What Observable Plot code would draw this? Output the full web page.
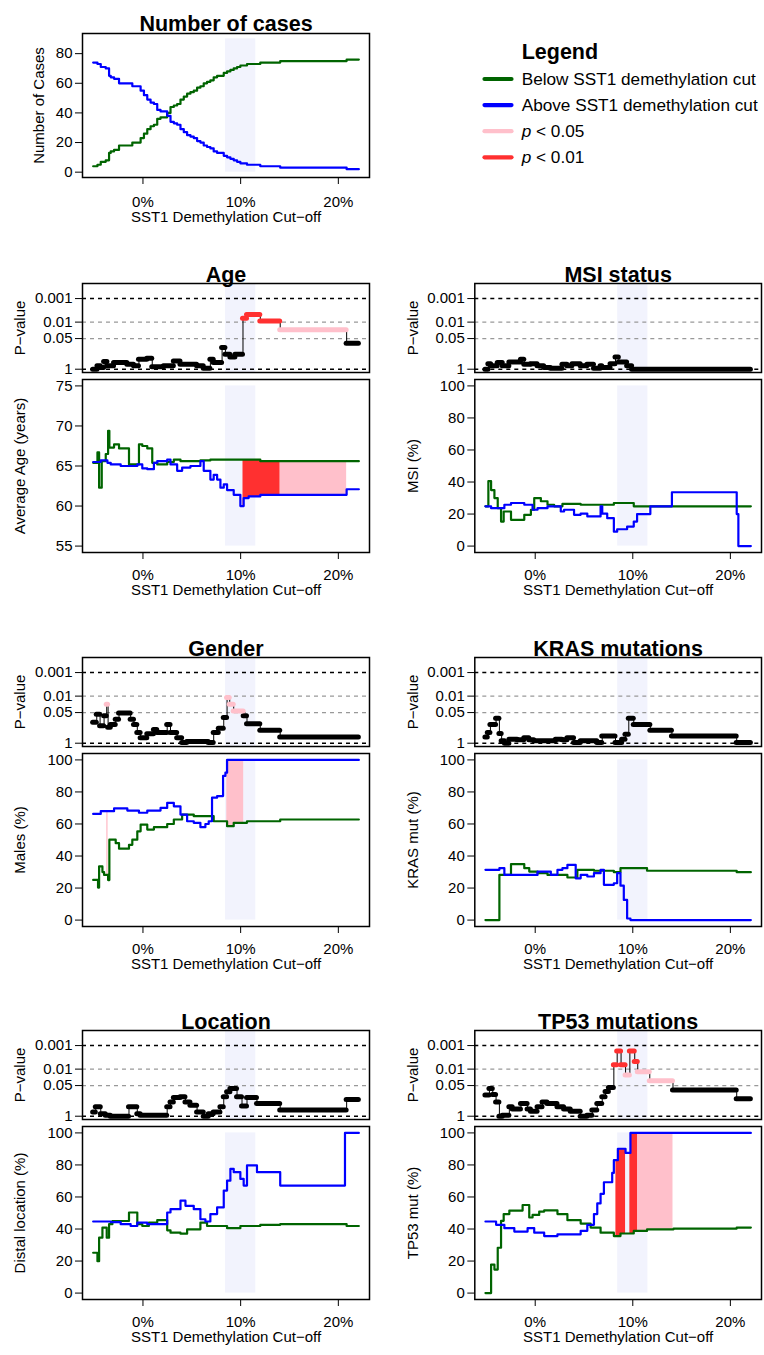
<!DOCTYPE html>
<html><head><meta charset="utf-8">
<script src="https://cdn.jsdelivr.net/npm/d3@7"></script>
<script src="https://cdn.jsdelivr.net/npm/@observablehq/plot@0.6"></script>
<style>
html,body{margin:0;padding:0;background:#fff;}
#chart{position:relative;width:764px;height:1355px;overflow:hidden;font-family:"Liberation Sans",Arial,sans-serif;color:#000;background:#fff;}
#chart svg{position:absolute;overflow:visible;background:transparent !important;max-width:none !important;}
</style></head><body><div id="chart"></div>
<script>
// ---------------- DATA ----------------
const cutoffTicks = [0, 10, 20];
const pTicks = [1, 0.05, 0.01, 0.001];
const focusBand = [[8.45, 11.55]];

const casesCutoff = [-5.1,-4.66,-4.32,-3.81,-3.47,-3.3,-2.96,-2.45,-1.09,-0.24,0.1,0.44,0.78,1.12,1.46,1.8,2.48,2.82,3.16,3.5,3.84,4.18,4.52,4.86,5.2,5.54,5.88,6.22,6.56,6.9,7.24,7.59,8.27,8.61,8.95,9.29,9.63,9.97,10.65,12.01,14.05,20.85,22.1];
const casesBelow = [4,5,7,8,13,14,15,18,20,23,26,29,31,32,36,37,40,44,45,46,49,51,53,54,55,57,58,60,61,62,64,65,67,68,69,70,71,72,73,74,75,76,76];
const casesAbove = [74,73,71,70,65,64,63,60,58,55,52,49,47,46,42,41,38,34,33,32,29,27,25,24,23,21,20,18,17,16,14,13,11,10,9,8,7,6,5,4,3,2,2];

// Age
const ageP = [[-5.1,1],[-4.66,0.72],[-4.32,0.85],[-3.98,0.47],[-3.64,0.72],[-2.96,0.52],[-1.6,0.62],[-0.92,0.72],[-0.41,0.38],[0.44,0.34],[0.95,0.79],[2.14,0.72],[3.16,0.45],[3.84,0.62],[5.54,0.72],[6.22,0.91],[6.9,0.38],[7.24,0.52],[8.1,0.12],[8.44,0.23],[8.95,0.3],[9.46,0.23],[10.24,0.0068],[10.65,0.0047],[12.01,0.0089],[14.05,0.021],[20.85,0.079],[22.1,0.079]];
const ageBelow = [[-5.1,65.4],[-4.66,66.7],[-4.49,62.3],[-4.22,65.6],[-3.81,66.5],[-3.57,69.4],[-3.44,67.3],[-2.96,67.7],[-2.45,67.2],[-1.43,65.2],[-0.41,67.7],[-0.07,67.5],[0.44,67.2],[0.95,65.4],[1.46,65.2],[2.48,65.5],[3.16,65.8],[3.84,65.6],[5.88,65.7],[6.9,65.8],[12.01,65.6],[22.1,65.6]];
const ageAbove = [[-5.1,65.5],[-4.32,65.7],[-3.64,65.4],[-3.3,65.2],[-2.28,65.0],[-0.58,65.2],[-0.07,64.7],[0.44,64.6],[1.12,65.4],[1.46,65.6],[2.48,65.8],[2.82,65.2],[3.5,64.4],[4.01,64.8],[4.86,65.0],[5.88,65.6],[6.22,64.4],[6.9,63.3],[7.24,63.9],[7.59,63.3],[7.93,62.3],[8.27,62.7],[8.61,62.0],[9.29,61.4],[9.97,60.0],[10.31,61.0],[10.82,61.2],[12.01,61.4],[20.85,62.1],[22.1,62.1]];
const ageSig = [[10.24,14.05,0.01],[14.05,20.85,0.05]];

// MSI status
const msiP = [[-5.1,1],[-4.8,0.58],[-4.52,0.72],[-3.84,0.52],[-3.33,0.72],[-2.65,0.49],[-1.46,0.38],[-1.12,0.62],[-0.44,0.58],[0.24,0.72],[0.92,0.85],[1.6,0.91],[2.79,0.62],[3.3,0.72],[3.81,0.58],[4.66,0.72],[5.34,0.62],[6.02,0.91],[6.7,0.72],[6.87,0.85],[7.72,0.58],[8.23,0.3],[8.57,0.49],[9.42,0.72],[9.93,1],[22.1,1]];
const msiBelow = [[-5.1,24.8],[-4.8,40.5],[-4.52,35],[-4.18,30],[-3.84,23.7],[-3.5,15.3],[-3.23,21.6],[-2.48,16.4],[-1.12,19.5],[-0.44,22.7],[-0.1,30],[0.58,28],[1.26,25.8],[1.94,24.8],[2.79,26.3],[4.66,25.8],[8.06,26.9],[10.1,24.8],[22.1,24.8]];
const msiAbove = [[-5.1,24.8],[-4.52,23.7],[-3.16,25.8],[-2.48,26.9],[-1.12,25.8],[-0.27,22.7],[0.24,23.7],[1.26,24.8],[2.62,21.6],[2.96,22.7],[3.98,19.5],[4.66,20.3],[5.34,18.5],[6.7,24.8],[6.87,20.3],[7.38,17.4],[8.06,9],[8.4,10.5],[9.42,12.2],[10.1,15.3],[10.44,20],[11.8,24.8],[14.01,33.6],[20.65,20],[20.82,0],[22.1,0]];
const msiSig = [];

// Gender
const genderP = [[-5.1,0.13],[-4.73,0.059],[-4.39,0.18],[-3.98,0.069],[-3.71,0.022],[-3.57,0.21],[-3.3,0.16],[-2.79,0.095],[-2.45,0.052],[-1.26,0.095],[-0.92,0.16],[-0.58,0.35],[-0.24,0.58],[0.44,0.4],[1.12,0.26],[1.46,0.35],[2.48,0.16],[2.82,0.35],[3.5,0.58],[4.01,0.93],[4.52,0.85],[5.88,0.85],[6.73,0.93],[7.24,0.35],[7.76,0.23],[8.27,0.081],[8.61,0.0115],[8.88,0.022],[9.29,0.043],[10.31,0.069],[10.65,0.15],[12.01,0.28],[14.05,0.54],[22.1,0.54]];
const genderBelow = [[-5.1,25.1],[-4.6,20.3],[-4.49,33.5],[-4.15,30],[-3.98,28.2],[-3.57,25],[-3.44,50.2],[-2.79,48],[-2.45,44.6],[-1.43,47],[-1.09,50.2],[-0.58,55.4],[-0.24,59.6],[0.44,56.5],[1.12,58],[2.48,60],[3.16,62.8],[4.01,65.9],[5.2,64.9],[7.24,61.7],[8.61,58.6],[9.29,60.7],[10.65,61.7],[14.05,62.8],[22.1,62.8]];
const genderAbove = [[-5.1,66.3],[-4.32,68],[-2.96,69.7],[-1.6,68.4],[-0.41,67],[0.44,68.4],[1.8,70],[2.48,73.2],[3.16,71],[3.84,65.9],[4.52,61.7],[5.2,60.7],[5.88,58],[6.39,60],[6.73,61.7],[7.07,76.4],[7.59,77.4],[8.2,90],[8.44,92],[8.61,100],[22.1,100]];
const genderSig = [[-3.71,-3.57,0.05],[8.58,10.31,0.05]];

// KRAS mutations
const krasP = [[-5.1,0.54],[-4.86,0.35],[-4.59,0.16],[-4.01,0.087],[-3.67,0.39],[-3.44,0.79],[-3.1,1],[-2.65,0.68],[-1.8,0.72],[-1.12,0.58],[-0.61,0.72],[-0.1,0.79],[2.11,0.68],[2.79,0.72],[3.3,0.58],[3.98,0.93],[4.66,0.79],[6.36,0.93],[6.87,0.49],[8.23,0.93],[8.91,0.68],[9.25,0.42],[9.59,0.087],[10.1,0.16],[11.8,0.28],[14.01,0.49],[20.65,0.93],[22.1,0.93]];
const krasBelow = [[-5.1,0],[-3.67,28.2],[-2.48,35],[-1.12,32.4],[-0.61,30.3],[0.24,29.3],[1.26,28.2],[3.3,26.6],[4.32,31.4],[6.02,30.8],[8.06,29.9],[8.74,32.4],[11.46,30.8],[20.65,29.9],[22.1,29.9]];
const krasAbove = [[-5.1,31.4],[-3.67,32.4],[-3.16,28.2],[0.24,30.3],[1.6,28.2],[2.28,31.4],[2.79,32.4],[3.3,34.5],[4.15,26.1],[4.66,28.2],[5.34,27.2],[6.02,29.3],[6.7,31.4],[7.04,22],[8.06,23],[8.4,29.3],[8.74,21.5],[9.08,12.6],[9.42,1],[9.76,0],[22.1,0]];
const krasSig = [];

// Location
const locP = [[-5.1,0.66],[-4.83,0.4],[-4.32,0.79],[-3.81,0.91],[-3.3,1],[-1.43,0.4],[-0.58,0.79],[-0.24,0.91],[2.48,0.4],[2.82,0.25],[3.16,0.16],[3.84,0.15],[4.35,0.25],[4.86,0.34],[5.54,0.66],[6.22,1],[6.73,0.79],[7.24,0.66],[7.93,0.4],[8.27,0.15],[8.61,0.091],[8.95,0.066],[9.63,0.15],[10.14,0.37],[10.65,0.16],[11.67,0.29],[14.05,0.55],[20.85,0.195],[22.1,0.195]];
const locBelow = [[-5.1,25.2],[-4.66,19.9],[-4.49,34.6],[-4.15,40.9],[-3.71,34.6],[-3.47,43],[-3.13,45],[-1.43,50.3],[-0.58,43],[-0.07,41.9],[0.61,44],[1.46,45.5],[2.48,39.2],[2.82,37.7],[3.84,37.1],[4.52,39.8],[5.88,44],[6.56,41.9],[8.61,40.5],[9.97,41.9],[12.01,42.6],[14.05,43],[20.85,41.9],[22.1,41.9]];
const locAbove = [[-5.1,44.7],[-3.3,44.3],[-2.28,43],[-1.26,41.9],[-0.58,44],[0.44,43],[2.48,50.3],[2.82,52.4],[3.84,57.7],[4.35,54.5],[5.2,52.4],[5.88,46.1],[6.39,44.7],[6.9,49.3],[7.59,53.5],[8.27,64],[8.61,70.2],[8.95,77.6],[9.29,75.5],[9.97,71.3],[10.31,67.1],[10.65,79.7],[11.67,75.5],[14.05,67.1],[20.68,100],[22.1,100]];
const locSig = [];

// TP53 mutations
const tp53P = [[-5.1,0.126],[-4.69,0.066],[-4.35,0.12],[-4.01,0.25],[-3.67,1],[-3.33,0.91],[-2.65,0.4],[-2.31,0.5],[-1.46,0.29],[-0.78,0.5],[-0.44,0.62],[0.24,0.4],[0.75,0.25],[1.26,0.29],[2.28,0.4],[2.96,0.5],[3.64,0.62],[4.66,1],[5.34,0.91],[5.85,0.55],[6.36,0.29],[6.87,0.15],[7.21,0.09],[7.55,0.06],[8.06,0.0066],[8.4,0.0017],[8.8,0.0066],[9.26,0.018],[9.7,0.0017],[10.2,0.0048],[10.51,0.013],[11.74,0.031],[14.12,0.078],[20.65,0.18],[22.1,0.18]];
const tp53Below = [[-5.1,0],[-4.52,17.8],[-4.18,14.7],[-3.84,28.3],[-3.5,45.1],[-3.23,49.3],[-2.65,51.5],[-1.29,55],[-0.61,47.2],[-0.27,48.8],[0.41,50.9],[0.92,51.7],[2.28,49.3],[3.3,45.5],[4.66,43.4],[5.68,40.9],[6.7,37.7],[8.06,35.6],[8.74,37.2],[10.1,38.8],[11.46,39.8],[14.18,40.3],[20.65,40.9],[22.1,40.9]];
const tp53Above = [[-5.1,44.7],[-4.01,42.6],[-3.16,40.5],[-2.14,38.4],[-0.78,40.5],[-0.1,37.7],[0.92,35.6],[2.28,36.7],[4.66,38.9],[5.34,42.6],[6.02,49.3],[6.36,56],[6.7,62],[7.04,69.2],[7.89,75],[8.06,83],[8.47,90.1],[9.26,87.5],[9.76,100],[22.1,100]];
const tp53Sig = [[8.27,9.26,0.01],[9.7,10.51,0.01],[10.51,14.12,0.05]];

// ---------------- STYLE / LAYOUT ----------------
const GREEN = "#006400", BLUE = "#0000ff", PINK = "#ffc0cb", RED = "#ff3030", BAND = "#f2f3fd";
const FONT = "'Liberation Sans', Arial, sans-serif";
const xDomain = [-6.19, 23.19];
const XLAB = "SST1 Demethylation Cut\u2212off";
const cols = [{left: 0, ml: 82, mr: 11}, {left: 384, ml: 90.3, mr: 3}];
const pct = {domain: [-4, 104], ticks: [0, 20, 40, 60, 80, 100], band: [0, 100]};
const nlog = p => -Math.log10(p);

const panels = [
  {title: "Age", col: 0, T: 266, ylabel: "Average Age (years)", p: ageP, below: ageBelow, above: ageAbove, sig: ageSig, y: {domain: [54.2, 75.8], ticks: [55, 60, 65, 70, 75], band: [55, 75]}},
  {title: "MSI status", col: 1, T: 266, ylabel: "MSI (%)", p: msiP, below: msiBelow, above: msiAbove, sig: msiSig, y: pct},
  {title: "Gender", col: 0, T: 640, ylabel: "Males (%)", p: genderP, below: genderBelow, above: genderAbove, sig: genderSig, y: pct},
  {title: "KRAS mutations", col: 1, T: 640, ylabel: "KRAS mut (%)", p: krasP, below: krasBelow, above: krasAbove, sig: krasSig, y: pct},
  {title: "Location", col: 0, T: 1013, ylabel: "Distal location (%)", p: locP, below: locBelow, above: locAbove, sig: locSig, y: pct},
  {title: "TP53 mutations", col: 1, T: 1013, ylabel: "TP53 mut (%)", p: tp53P, below: tp53Below, above: tp53Above, sig: tp53Sig, y: pct}
];

const chart = document.getElementById("chart");
function mount(svg, left, top) {
  svg.style.position = "absolute";
  svg.style.left = left + "px";
  svg.style.top = top + "px";
  chart.appendChild(svg);
}
const baseStyle = {fontFamily: FONT, fontSize: "15px", background: "transparent", color: "black", overflow: "visible"};
const toPts = arr => arr.map(([x, y]) => ({x, y}));
function stepAt(series, x) {
  let v = series[0][1];
  for (const [bx, by] of series) { if (bx <= x + 1e-9) v = by; else break; }
  return v;
}
function fillPoints(below, above, a, b) {
  const xs = [a, ...below.map(d => d[0]), ...above.map(d => d[0])].filter(x => x >= a && x < b);
  const u = Array.from(new Set(xs)).sort((m, n) => m - n);
  const pts = u.map(x => ({x, lo: stepAt(below, x), hi: stepAt(above, x)}));
  const last = pts[pts.length - 1];
  pts.push({x: b, lo: last.lo, hi: last.hi});
  return pts;
}
const TITLE_SIZE = 21.5;
const yLabel = (label, dx) => Plot.text([label], {text: d => d, frameAnchor: "left", dx, rotate: -90, textAnchor: "middle", fontSize: 15});

// ---------------- NUMBER OF CASES ----------------
{
  const below = casesCutoff.map((x, i) => ({x, y: casesBelow[i]}));
  const above = casesCutoff.map((x, i) => ({x, y: casesAbove[i]}));
  const c = cols[0];
  const svg = Plot.plot({
    width: 380, height: 33 + 144 + 52, marginTop: 33, marginBottom: 52, marginLeft: c.ml, marginRight: c.mr,
    style: baseStyle,
    x: {domain: xDomain},
    y: {domain: [-3.6, 93.6]},
    marks: [
      Plot.rect(focusBand, {x1: d => d[0], x2: d => d[1], y1: () => 0, y2: () => 90, fill: BAND}),
      Plot.line(below, {x: "x", y: "y", curve: "step-after", stroke: GREEN, strokeWidth: 2.2}),
      Plot.line(above, {x: "x", y: "y", curve: "step-after", stroke: BLUE, strokeWidth: 2.2}),
      Plot.axisY({ticks: [0, 20, 40, 60, 80], tickSize: 7, tickPadding: 3, label: null, fontSize: 15}),
      Plot.axisX({ticks: cutoffTicks, tickFormat: d => d + "%", tickSize: 7, tickPadding: 12, label: null, fontSize: 15}),
      Plot.text(["Number of cases"], {text: d => d, frameAnchor: "top", dy: -18, fontSize: TITLE_SIZE, fontWeight: "bold"}),
      yLabel("Number of Cases", -43),
      Plot.text([XLAB], {text: d => d, frameAnchor: "bottom", dy: 44, fontSize: 15}),
      Plot.frame({stroke: "black", strokeWidth: 1.5})
    ]
  });
  mount(svg, c.left, 0);
}

// ---------------- PANELS ----------------
for (const cfg of panels) {
  const c = cols[cfg.col];
  // P-value panel (y = -log10 p)
  const pts = cfg.p.map(([x, p]) => ({x, p}));
  const pieces = pts.slice(0, -1).map((d, i) => ({x1: d.x, x2: pts[i + 1].x, p: d.p}));
  const dot = {x1: "x1", x2: "x2", y: d => nlog(d.p), strokeWidth: 5, strokeLinecap: "round"};
  const pSvg = Plot.plot({
    width: 380, height: 30 + 89 + 3, marginTop: 30, marginBottom: 3, marginLeft: c.ml, marginRight: c.mr,
    style: baseStyle,
    x: {domain: xDomain, axis: null},
    y: {domain: [-0.14, 3.64]},
    marks: [
      Plot.rect(focusBand, {x1: d => d[0], x2: d => d[1], fill: BAND}),
      Plot.ruleY([1, 0.001], {y: nlog, stroke: "black", strokeWidth: 1.6, strokeDasharray: "4,4"}),
      Plot.ruleY([0.05, 0.01], {y: nlog, stroke: "#999999", strokeWidth: 1.3, strokeDasharray: "4,4"}),
      Plot.line(pts, {x: "x", y: d => nlog(d.p), curve: "step-after", stroke: "black", strokeWidth: 1}),
      Plot.ruleY(pieces.filter(d => d.p >= 0.05), {...dot, stroke: "black"}),
      Plot.ruleY(pieces.filter(d => d.p < 0.05 && d.p >= 0.01), {...dot, stroke: PINK}),
      Plot.ruleY(pieces.filter(d => d.p < 0.01), {...dot, stroke: RED}),
      Plot.axisY(pTicks, {y: nlog, text: d => String(d), tickSize: 7, tickPadding: 3, label: null, fontSize: 15}),
      Plot.text([cfg.title], {text: d => d, frameAnchor: "top", dy: -17, fontSize: TITLE_SIZE, fontWeight: "bold"}),
      yLabel("P\u2212value", -62),
      Plot.frame({stroke: "black", strokeWidth: 1.5})
    ]
  });
  mount(pSvg, c.left, cfg.T - 13);

  // value panel
  const fills = cfg.sig.map(([a, b, lvl]) => Plot.areaY(fillPoints(cfg.below, cfg.above, a, b),
    {x: "x", y1: "lo", y2: "hi", curve: "step-after", fill: lvl <= 0.01 ? RED : PINK}));
  const vSvg = Plot.plot({
    width: 380, height: 3 + 173 + 52, marginTop: 3, marginBottom: 52, marginLeft: c.ml, marginRight: c.mr,
    style: baseStyle,
    x: {domain: xDomain},
    y: {domain: cfg.y.domain},
    marks: [
      Plot.rect(focusBand, {x1: d => d[0], x2: d => d[1], y1: () => cfg.y.band[0], y2: () => cfg.y.band[1], fill: BAND}),
      ...fills,
      Plot.line(toPts(cfg.below), {x: "x", y: "y", curve: "step-after", stroke: GREEN, strokeWidth: 2.2}),
      Plot.line(toPts(cfg.above), {x: "x", y: "y", curve: "step-after", stroke: BLUE, strokeWidth: 2.2}),
      Plot.axisY({ticks: cfg.y.ticks, tickSize: 7, tickPadding: 3, label: null, fontSize: 15}),
      Plot.axisX({ticks: cutoffTicks, tickFormat: d => d + "%", tickSize: 7, tickPadding: 10, label: null, fontSize: 15}),
      yLabel(cfg.ylabel, -62),
      Plot.text([XLAB], {text: d => d, frameAnchor: "bottom", dy: 42, fontSize: 15}),
      Plot.frame({stroke: "black", strokeWidth: 1.5})
    ]
  });
  mount(vSvg, c.left, cfg.T + 110);
}

// ---------------- LEGEND ----------------
const legendItems = [
  {label: "Below SST1 demethylation cut", color: GREEN},
  {label: "Above SST1 demethylation cut", color: BLUE},
  {label: " < 0.05", color: PINK, italicP: true},
  {label: " < 0.01", color: RED, italicP: true}
];
{
  const NS = "http://www.w3.org/2000/svg";
  const svg = document.createElementNS(NS, "svg");
  svg.setAttribute("width", 324); svg.setAttribute("height", 180);
  svg.setAttribute("font-family", FONT);
  const t = document.createElementNS(NS, "text");
  t.setAttribute("x", 81.7); t.setAttribute("y", 59);
  t.setAttribute("font-size", TITLE_SIZE); t.setAttribute("font-weight", "bold");
  t.textContent = "Legend";
  svg.appendChild(t);
  legendItems.forEach((it, i) => {
    const cy = 79 + i * 26.1;
    const l = document.createElementNS(NS, "line");
    l.setAttribute("x1", 44.5); l.setAttribute("x2", 71.5);
    l.setAttribute("y1", cy); l.setAttribute("y2", cy);
    l.setAttribute("stroke", it.color); l.setAttribute("stroke-width", 4.2);
    l.setAttribute("stroke-linecap", "round");
    svg.appendChild(l);
    const tx = document.createElementNS(NS, "text");
    tx.setAttribute("x", 81.7); tx.setAttribute("y", cy + 6);
    tx.setAttribute("font-size", 17.2);
    if (it.italicP) {
      const sp = document.createElementNS(NS, "tspan");
      sp.setAttribute("font-style", "italic"); sp.textContent = "p";
      tx.appendChild(sp);
      tx.appendChild(document.createTextNode(it.label));
    } else tx.textContent = it.label;
    svg.appendChild(tx);
  });
  mount(svg, 440, 0);
}
</script></body></html>
